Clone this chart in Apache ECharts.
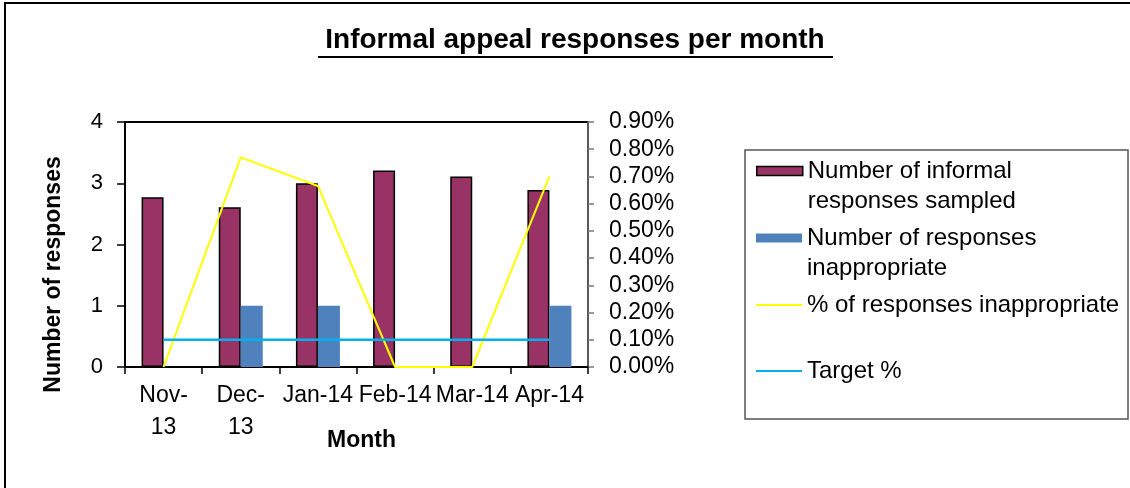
<!DOCTYPE html>
<html>
<head>
<meta charset="utf-8">
<script src="https://cdn.jsdelivr.net/npm/echarts@6/dist/echarts.min.js"></script>
<style>
  html, body { margin: 0; padding: 0; background: #fff; }
  #main { width: 1130px; height: 488px; }
</style>
</head>
<body>
<div id="main"></div>
<script>
// data
const months = ['Nov-\n13', 'Dec-\n13', 'Jan-14', 'Feb-14', 'Mar-14', 'Apr-14'];
const sampled = [2.77, 2.61, 3.0, 3.21, 3.11, 2.89];
const inappropriate = [0, 1, 1, 0, 0, 1];
const pctInappropriate = [0, 0.77, 0.665, 0, 0, 0.70];
const targetPct = [0.1, 0.1, 0.1, 0.1, 0.1, 0.1];

const FONT = "'Liberation Sans', Arial, sans-serif";

const chart = echarts.init(document.getElementById('main'));

// legend text: an empty first row so the swatch lines up with the first text row
const legendRich = {
  gap: { fontSize: 24, lineHeight: 30 },
  t: { fontFamily: FONT, fontSize: 24, color: '#000', lineHeight: 30 }
};
function twoRows(a, b) {
  return '{gap| }\n{t|' + a + '}\n{t|' + b + '}';
}

// one legend per series so items sit like the Excel one
function legendItem(name, top, opts) {
  return Object.assign({
    data: [name],
    left: 756,
    top: top,
    padding: 0,
    itemWidth: 46,
    itemHeight: 9,
    icon: 'rect',
    selectedMode: false,
    textStyle: { fontFamily: FONT, fontSize: 24, color: '#000', lineHeight: 30, rich: legendRich }
  }, opts || {});
}

const option = {
  animation: false,
  backgroundColor: '#fff',
  title: {
    text: 'Informal appeal responses per month',
    left: 575,
    top: 26,
    padding: 0,
    textAlign: 'center',
    textStyle: { fontFamily: FONT, fontSize: 28, fontWeight: 'bold', color: '#000' }
  },
  graphic: [
    { type: 'rect', z: -10, shape: { x: 5, y: 3, width: 1140, height: 500 },
      style: { fill: 'none', stroke: '#000', lineWidth: 2 } },
    { type: 'line', shape: { x1: 318, y1: 57, x2: 833, y2: 57 },
      style: { stroke: '#000', lineWidth: 2 } },
    { type: 'rect', z: -5, shape: { x: 745, y: 150, width: 383, height: 269 },
      style: { fill: '#fff', stroke: '#555', lineWidth: 1.5 } }
  ],
  legend: [
    legendItem('Number of informal responses sampled', 126, {
      itemStyle: { borderColor: '#000', borderWidth: 1.5 },
      formatter: () => twoRows('Number of informal', 'responses sampled')
    }),
    legendItem('Number of responses inappropriate', 193, {
      formatter: () => twoRows('Number of responses', 'inappropriate')
    }),
    legendItem('% of responses inappropriate', 290, { itemHeight: 2 }),
    legendItem('Target %', 356, { itemHeight: 2 })
  ],
  grid: {
    left: 125, right: 542, top: 122, bottom: 121,
    show: true, borderColor: '#000', borderWidth: 2, backgroundColor: 'transparent'
  },
  xAxis: {
    type: 'category',
    data: months,
    boundaryGap: true,
    name: 'Month',
    nameLocation: 'middle',
    nameGap: 62,
    nameMoveOverlap: false,
    nameTextStyle: { fontFamily: FONT, fontSize: 23, fontWeight: 'bold', color: '#000', padding: [0, 0, 0, 10] },
    axisLine: { lineStyle: { color: '#000', width: 2 } },
    axisTick: { show: true, length: 7, alignWithLabel: false, lineStyle: { color: '#000', width: 1.5 } },
    axisLabel: { interval: 0, margin: 13, fontFamily: FONT, fontSize: 23, color: '#000', lineHeight: 32 },
    splitLine: { show: false }
  },
  yAxis: [
    {
      type: 'value',
      min: 0, max: 4, interval: 1,
      name: 'Number of responses',
      nameLocation: 'middle',
      nameGap: 60,
      nameMoveOverlap: false,
      nameTextStyle: { fontFamily: FONT, fontSize: 23, fontWeight: 'bold', color: '#000', padding: [0, 60, 0, 0] },
      axisLine: { show: true, lineStyle: { color: '#000', width: 2 } },
      axisTick: { show: true, length: 8, lineStyle: { color: '#000', width: 1.5 } },
      axisLabel: { margin: 22, fontFamily: FONT, fontSize: 22, color: '#000' },
      splitLine: { show: false }
    },
    {
      type: 'value',
      min: 0, max: 0.9, interval: 0.1,
      position: 'right',
      axisLine: { show: true, lineStyle: { color: '#777', width: 1.5 } },
      axisTick: { show: true, length: 6, lineStyle: { color: '#777', width: 1.5 } },
      axisLabel: { margin: 21, fontFamily: FONT, fontSize: 23, color: '#000',
        formatter: v => v.toFixed(2) + '%' },
      splitLine: { show: false }
    }
  ],
  series: [
    {
      name: 'Number of informal responses sampled',
      type: 'bar',
      data: sampled,
      barWidth: 22,
      barGap: '0%',
      itemStyle: { color: '#993366', borderColor: '#000', borderWidth: 1.5 }
    },
    {
      name: 'Number of responses inappropriate',
      type: 'bar',
      data: inappropriate,
      barWidth: 22,
      barGap: '0%',
      itemStyle: { color: '#4F81BD' }
    },
    {
      name: '% of responses inappropriate',
      type: 'line',
      yAxisIndex: 1,
      data: pctInappropriate,
      symbol: 'none',
      color: '#FFFF00',
      lineStyle: { color: '#FFFF00', width: 2 },
      z: 3
    },
    {
      name: 'Target %',
      type: 'line',
      yAxisIndex: 1,
      data: targetPct,
      symbol: 'none',
      color: '#00B0F0',
      lineStyle: { color: '#00B0F0', width: 2.5 },
      z: 3
    }
  ]
};

chart.setOption(option);
</script>
</body>
</html>
